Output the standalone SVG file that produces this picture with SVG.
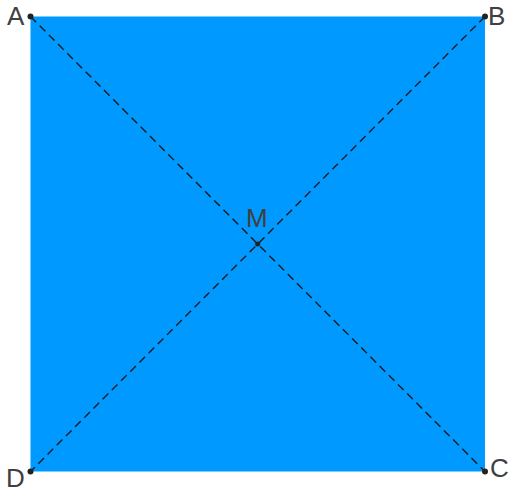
<svg xmlns="http://www.w3.org/2000/svg" width="511" height="493" viewBox="0 0 511 493">
<style>
.lbl{font-family:"Liberation Sans",Arial,sans-serif;font-size:26px;fill:#404040}
.diag{stroke:#1a1a1a;stroke-width:1.4;stroke-dasharray:8 5;fill:none}
.pt{fill:#222}
</style>
<g id="square"><rect x="30.5" y="16.5" width="454.5" height="455" fill="#0099ff"/></g>
<g id="connectors">
<line class="diag" x1="30.5" y1="16.5" x2="485" y2="471.5"/>
<line class="diag" x1="485" y1="16.5" x2="30.5" y2="471.5"/>
</g>
<g id="A"><circle class="pt" cx="30.5" cy="16.5" r="3"/><text class="lbl" x="7" y="25">A</text></g>
<g id="B"><circle class="pt" cx="485" cy="16.5" r="3"/><text class="lbl" x="488" y="25">B</text></g>
<g id="C"><circle class="pt" cx="485" cy="471.5" r="3"/><text class="lbl" x="490" y="477">C</text></g>
<g id="D"><circle class="pt" cx="30.5" cy="471.5" r="3"/><text class="lbl" x="6" y="487">D</text></g>
<g id="M"><circle class="pt" cx="257.7" cy="244" r="2.5"/><text class="lbl" x="246" y="227">M</text></g>
</svg>
